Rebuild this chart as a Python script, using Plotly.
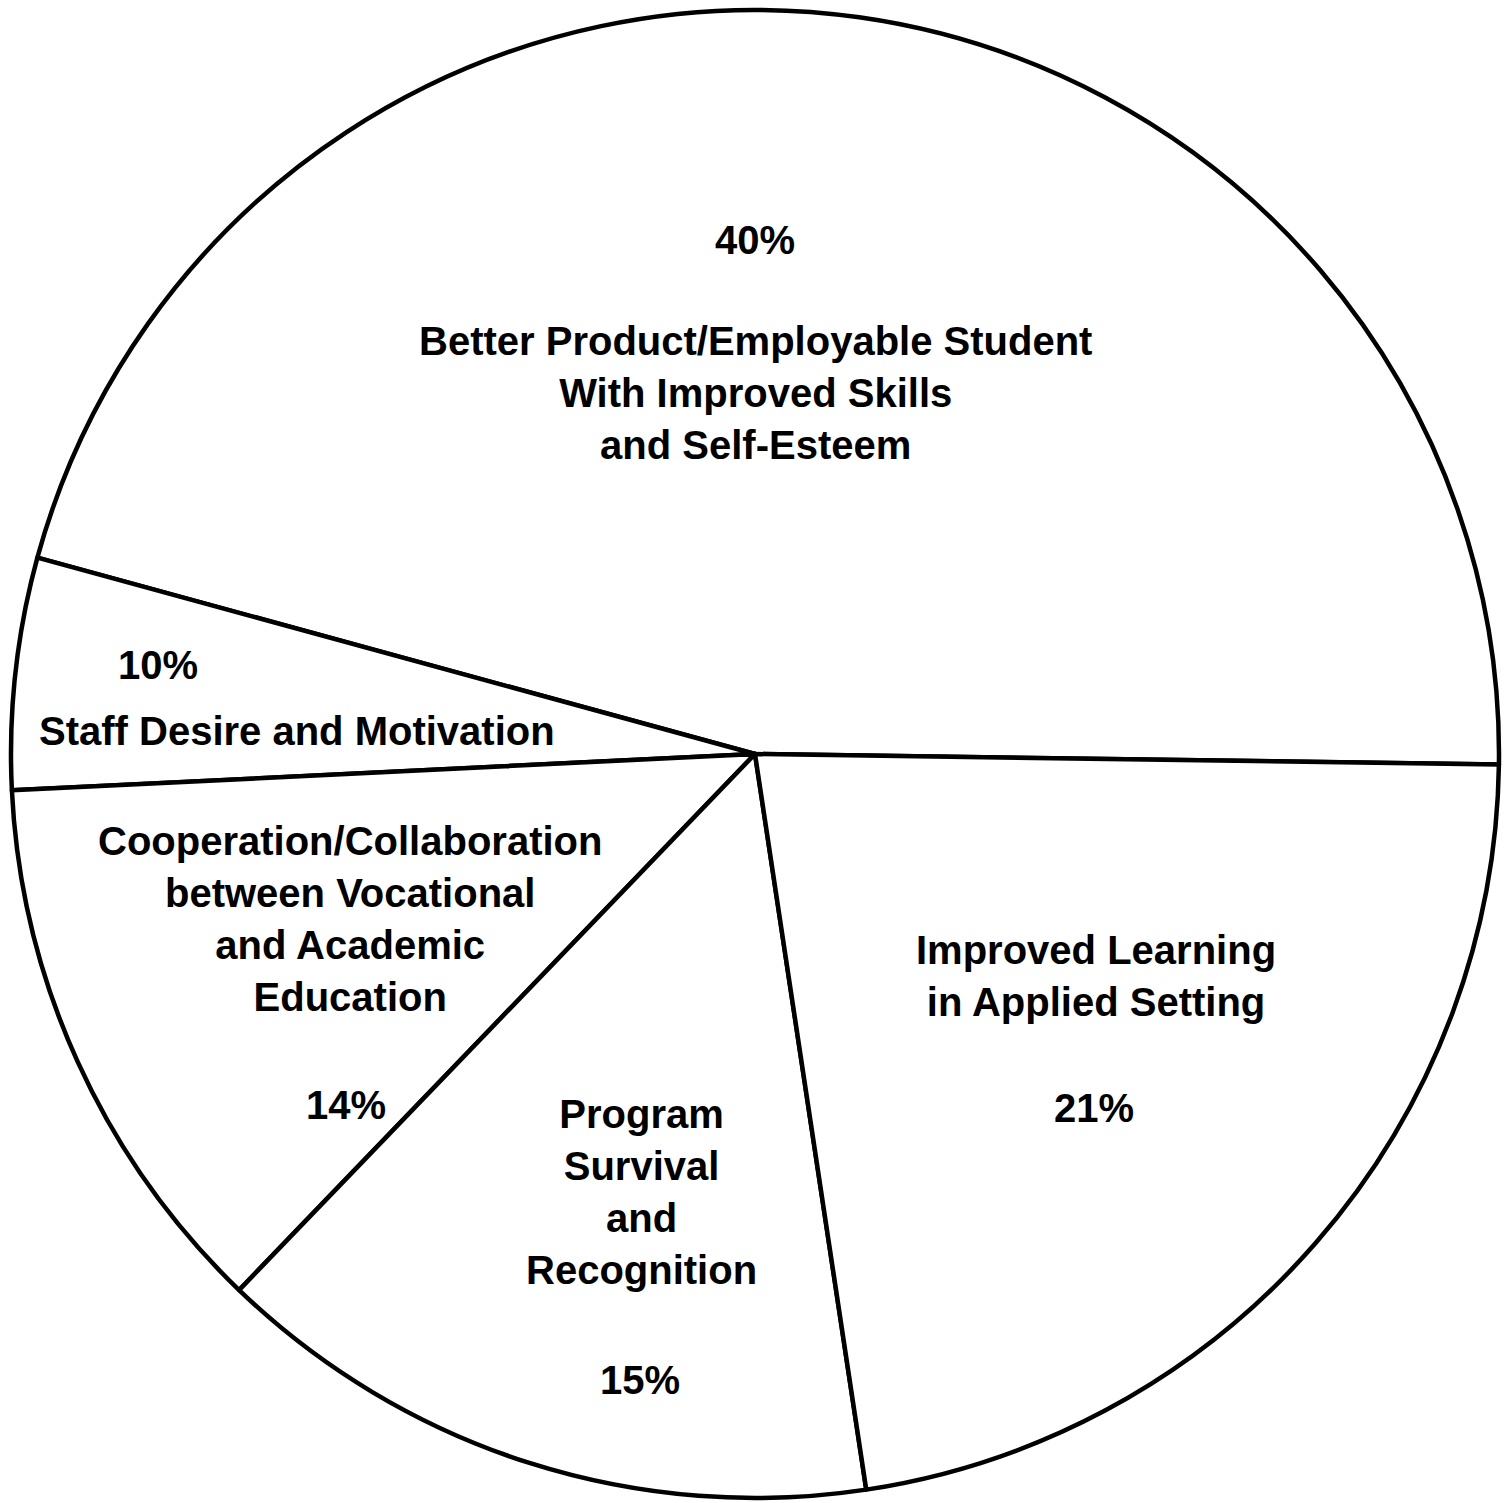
import plotly.graph_objects as go

# Categories in drawing order (counterclockwise from 3 o'clock)
categories = [
    "Better Product/Employable Student With Improved Skills and Self-Esteem",
    "Staff Desire and Motivation",
    "Cooperation/Collaboration between Vocational and Academic Education",
    "Program Survival and Recognition",
    "Improved Learning in Applied Setting",
]
# Printed percentages
pct_labels = [40, 10, 14, 15, 21]
# Slice sizes as actually drawn in the picture (degrees of arc)
slice_sizes = [165.5, 18.1, 43.3, 52.5, 80.6]

W, H = 1510, 1503

fig = go.Figure(go.Pie(
    labels=categories,
    values=slice_sizes,
    sort=False,
    direction="counterclockwise",
    rotation=-74.7,
    textinfo="none",
    hoverinfo="label",
    marker=dict(colors=["white"] * len(categories),
                line=dict(color="black", width=4.5)),
    domain=dict(x=[11 / W, 1499 / W], y=[5 / H, 1493 / H]),
    showlegend=False,
))

font = dict(family="Liberation Sans, Arial, sans-serif", size=40, color="black")

def px(x, y):
    return x / W, 1 - y / H

texts = [
    (f"<b>{pct_labels[0]}%</b>", 755, 240),
    ("<b>Better Product/Employable Student<br>With Improved Skills<br>and Self-Esteem</b>", 755, 393),
    (f"<b>{pct_labels[1]}%</b>", 158, 665),
    ("<b>Staff Desire and Motivation</b>", 297, 731),
    ("<b>Cooperation/Collaboration<br>between Vocational<br>and Academic<br>Education</b>", 350, 919),
    (f"<b>{pct_labels[2]}%</b>", 346, 1105),
    ("<b>Program<br>Survival<br>and<br>Recognition</b>", 641, 1192),
    (f"<b>{pct_labels[3]}%</b>", 640, 1380),
    ("<b>Improved Learning<br>in Applied Setting</b>", 1096, 976),
    (f"<b>{pct_labels[4]}%</b>", 1094, 1108),
]

annotations = []
for t, x, y in texts:
    ax, ay = px(x, y)
    annotations.append(dict(text=t, x=ax, y=ay, xref="paper", yref="paper",
                            xanchor="center", yanchor="middle", showarrow=False,
                            align="center", font=font))

fig.update_layout(
    width=W, height=H,
    margin=dict(l=0, r=0, t=0, b=0),
    paper_bgcolor="white",
    plot_bgcolor="white",
    annotations=annotations,
)

fig.write_html("out.html")
